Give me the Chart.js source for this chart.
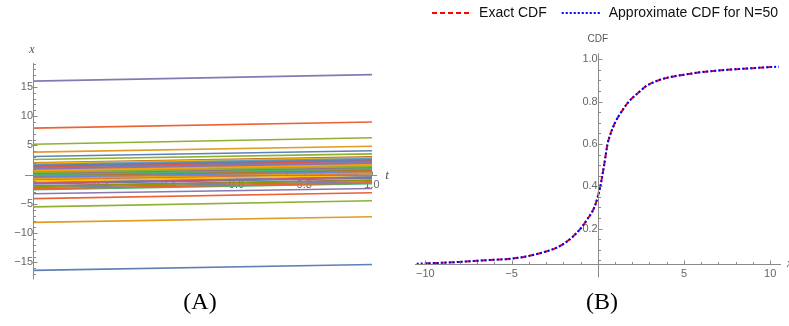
<!DOCTYPE html>
<html>
<head>
<meta charset="utf-8">
<script src="https://cdn.jsdelivr.net/npm/chart.js@4.4.1/dist/chart.umd.min.js"></script>
<style>
  html, body { margin: 0; padding: 0; background: #fff; width: 789px; height: 326px; overflow: hidden; position: relative; }
  #wa { position: absolute; left: 0; top: 0; width: 400px; height: 290px; }
  #wb { position: absolute; left: 400px; top: -9px; width: 395px; height: 299px; }
  .cap { position: absolute; top: 288px; font: 24px 'Liberation Serif', serif; color: #000; transform: translateX(-50%); white-space: nowrap; }
</style>
</head>
<body>
<div id="wa"><canvas id="ca" width="400" height="290"></canvas></div>
<div id="wb"><canvas id="cb" width="395" height="299"></canvas></div>
<div class="cap" style="left:200px">(A)</div>
<div class="cap" style="left:602px">(B)</div>
<script>
// ---------- Panel A: sample paths x(t) ----------
const tTickLabels = [0.2, 0.4, 0.6, 0.8, 1.0];
const xTickLabels = [-15, -10, -5, 5, 10, 15];
const tStart = 0;
const tEnd = 1;
// value of each path at t = 0 and at t = 1
const xAtStart = [3.1, 3.85, 5.2, 7.95, 16.0, 2.05, -0.35, 1.2, -1.9, 0.15,
                  0.8, -0.9, 1.65, -0.05, -2.55, -16.35, -8.15, -5.5, -4.1, -3.25,
                  0.45, -1.3, 1.9, -0.6, 0.05, 1.45, -2.2, 0.6, -0.15, 1.05,
                  -1.6, 0.3, 2.6, -0.8, 0.95, -0.25, 1.75, -1.1, 0.2, -2.0,
                  1.3, -0.45, 0.7, -1.45, 0.0, 1.55, -0.7, 0.4, -2.4, 1.1];
const xAtEnd   = [4.1, 4.85, 6.3, 9.0, 17.1, 3.05, 0.65, 2.2, -0.9, 1.15,
                  1.8, 0.1, 2.65, 0.95, -1.55, -15.35, -7.2, -4.45, -3.1, -2.35,
                  1.45, -0.3, 2.9, 0.4, 1.05, 2.45, -1.2, 1.6, 0.85, 2.05,
                  -0.6, 1.3, 3.55, 0.2, 1.95, 0.75, 2.75, -0.1, 1.2, -1.0,
                  2.3, 0.55, 1.7, -0.45, 1.0, 2.55, 0.3, 1.4, -1.4, 2.1];

// ---------- Panel B: cumulative distribution ----------
const cdfTickLabelsX = [-10, -5, 5, 10];
const cdfTickLabelsY = [0.2, 0.4, 0.6, 0.8, 1.0];
const exactX   = [-10, -9, -8, -7, -6, -5, -4, -3, -2.5, -2, -1.5, -1, -0.6, -0.2, 0, 0.15,
                  0.37, 0.57, 0.75, 1, 1.4, 1.8, 2.4, 2.8, 3.5, 4.2, 5, 6, 7, 8, 9, 10];
const exactCdf = [0.036, 0.039, 0.043, 0.048, 0.053, 0.058, 0.071, 0.092, 0.106, 0.127, 0.158, 0.2, 0.245, 0.3, 0.35, 0.4,
                  0.5, 0.6, 0.65, 0.7, 0.755, 0.8, 0.845, 0.873, 0.9, 0.916, 0.927, 0.939, 0.947, 0.953, 0.958, 0.963];
const approxX   = [-10.5, -10, -9, -8, -7, -6, -5, -4, -3, -2.5, -2, -1.5, -1, -0.6, -0.2, 0, 0.15,
                   0.37, 0.57, 0.75, 1, 1.4, 1.8, 2.4, 2.8, 3.5, 4.2, 5, 6, 7, 8, 9, 10, 10.5];
const approxCdf = [0.034, 0.036, 0.039, 0.043, 0.048, 0.053, 0.058, 0.071, 0.092, 0.106, 0.127, 0.158, 0.2, 0.245, 0.3, 0.35, 0.4,
                   0.5, 0.6, 0.65, 0.7, 0.755, 0.8, 0.845, 0.873, 0.9, 0.916, 0.927, 0.939, 0.947, 0.953, 0.958, 0.963, 0.965];

// default plot colours of the notebook style
const palette = ['#5E81B5', '#E19C24', '#8FB032', '#EB6235', '#8778B3', '#C56E1A', '#5D9EC7', '#FFBF00',
                 '#A5609D', '#929600', '#E95536', '#6685D9', '#F89F13', '#BC5B80', '#47B66D'];

const AXIS = '#8a8a8a';
const TICK_TEXT = '#666';
const tickFont = { family: "'Liberation Sans', Arial, sans-serif", size: 11 };
const signed = v => (v < 0 ? '\u2212' : '') + Math.abs(v);

// axis lines with inward major/minor tick marks, drawn from the scales
function drawAxes(chart, cfg) {
  const { ctx, chartArea: a, scales: { x, y } } = chart;
  const yAt = Math.round(y.getPixelForValue(cfg.xAxisAt)) + 0.5;
  const xAt = Math.round(x.getPixelForValue(cfg.yAxisAt)) + 0.5;
  ctx.save();
  ctx.strokeStyle = AXIS;
  ctx.lineWidth = 1;
  ctx.beginPath();
  ctx.moveTo(a.left, yAt); ctx.lineTo(a.right, yAt);
  ctx.moveTo(xAt, y.getPixelForValue(cfg.yAxisTop));
  ctx.lineTo(xAt, cfg.yAxisBottomPx != null ? yAt + cfg.yAxisBottomPx : a.bottom);
  for (let k = cfg.xMinorFrom; k <= cfg.xMinorTo; k++) {
    if (k === 0) continue;
    const px = Math.round(x.getPixelForValue(k * cfg.xMinorStep)) + 0.5;
    const len = k % cfg.xMajorEvery === 0 ? 4 : 2.5;
    ctx.moveTo(px, yAt); ctx.lineTo(px, yAt - len);
  }
  for (let k = cfg.yMinorFrom; k <= cfg.yMinorTo; k++) {
    if (k === 0) continue;
    const py = Math.round(y.getPixelForValue(k * cfg.yMinorStep)) + 0.5;
    const len = k % cfg.yMajorEvery === 0 ? 4 : 2.5;
    ctx.moveTo(xAt, py); ctx.lineTo(xAt + len, py);
  }
  ctx.stroke();
  ctx.restore();
}

function axisName(ctx, text, x, y, font, color, align) {
  ctx.save();
  ctx.font = font;
  ctx.fillStyle = color;
  ctx.textAlign = align || 'center';
  ctx.textBaseline = 'middle';
  ctx.fillText(text, x, y);
  ctx.restore();
}

const axesA = {
  id: 'axesA',
  afterDatasetsDraw(chart) {
    drawAxes(chart, {
      xAxisAt: 0, yAxisAt: 0, yAxisTop: chart.scales.y.max,
      xMinorStep: 0.05, xMinorFrom: 1, xMinorTo: 20, xMajorEvery: 4,
      yMinorStep: 1, yMinorFrom: -17, yMinorTo: 19, yMajorEvery: 5
    });
    const ctx = chart.ctx;
    axisName(ctx, 'x', 32, 50, "italic 12px 'Liberation Serif', serif", '#555');
    axisName(ctx, 't', 387, 176, "italic 13px 'Liberation Serif', serif", '#555');
  }
};

const axesB = {
  id: 'axesB',
  afterDatasetsDraw(chart) {
    const { x, y } = chart.scales;
    drawAxes(chart, {
      xAxisAt: y.min, yAxisAt: 0, yAxisTop: 1.028, yAxisBottomPx: 13,
      xMinorStep: 1, xMinorFrom: -10, xMinorTo: 10, xMajorEvery: 5,
      yMinorStep: 0.05, yMinorFrom: 1, yMinorTo: 20, yMajorEvery: 4
    });
    const ctx = chart.ctx;
    const x0 = x.getPixelForValue(0);
    axisName(ctx, 'CDF', x0, y.getPixelForValue(1.028) - 14, "10px 'Liberation Sans', Arial, sans-serif", '#555');
    axisName(ctx, 'x', chart.chartArea.right + 6, y.getPixelForValue(y.min), "italic 12px 'Liberation Serif', serif", '#555', 'left');
  }
};

new Chart(document.getElementById('ca'), {
  type: 'line',
  data: {
    datasets: xAtStart.map((v, i) => ({
      data: [{ x: tStart, y: v }, { x: tEnd, y: xAtEnd[i] }],
      borderColor: palette[i % palette.length],
      borderWidth: 1.6,
      pointRadius: 0,
      order: xAtStart.length - i
    }))
  },
  options: {
    responsive: false, animation: false, devicePixelRatio: 1, events: [],
    layout: { padding: { left: 25, right: 23, top: 63, bottom: 10 } },
    plugins: { legend: { display: false }, tooltip: { enabled: false } },
    scales: {
      x: {
        type: 'linear', min: -0.0236, max: 1.0147, position: { y: 0 }, z: 1,
        grid: { display: false, drawTicks: false }, border: { display: false },
        afterBuildTicks: s => { s.ticks = tTickLabels.map(v => ({ value: v })); },
        ticks: { callback: v => v.toFixed(1), padding: 4, color: TICK_TEXT, font: tickFont, autoSkip: false, maxRotation: 0 }
      },
      y: {
        type: 'linear', min: -17.9, max: 19.09, position: { x: 0 },
        grid: { display: false, drawTicks: false }, border: { display: false },
        afterBuildTicks: s => { s.ticks = xTickLabels.map(v => ({ value: v })); },
        ticks: { callback: v => signed(v), padding: 4, color: TICK_TEXT, font: tickFont, autoSkip: false }
      }
    }
  },
  plugins: [axesA]
});

new Chart(document.getElementById('cb'), {
  type: 'line',
  data: {
    datasets: [
      {
        label: 'Exact CDF',
        data: exactX.map((v, i) => ({ x: v, y: exactCdf[i] })),
        borderColor: '#ff0000', borderWidth: 2, borderDash: [5, 3],
        pointRadius: 0, cubicInterpolationMode: 'monotone', order: 2
      },
      {
        label: 'Approximate CDF for N=50',
        data: approxX.map((v, i) => ({ x: v, y: approxCdf[i] })),
        borderColor: '#0000ff', borderWidth: 2, borderDash: [2, 2],
        pointRadius: 0, cubicInterpolationMode: 'monotone', order: 1
      }
    ]
  },
  options: {
    responsive: false, animation: false, devicePixelRatio: 1, events: [],
    layout: { padding: { left: 15, right: 0, top: 0, bottom: 26 } },
    plugins: {
      tooltip: { enabled: false },
      legend: {
        display: true, position: 'top', align: 'center',
        labels: {
          usePointStyle: true, pointStyle: 'line', pointStyleWidth: 40,
          padding: 15, color: '#111',
          font: { family: "'Liberation Sans', Arial, sans-serif", size: 14 },
          sort: (a, b) => a.datasetIndex - b.datasetIndex,
          generateLabels: chart => Chart.defaults.plugins.legend.labels.generateLabels(chart).map(item => {
            const ds = chart.data.datasets[item.datasetIndex];
            item.lineDash = ds.borderDash;
            item.lineWidth = ds.borderWidth;
            item.strokeStyle = ds.borderColor;
            return item;
          })
        }
      }
    },
    scales: {
      x: {
        type: 'linear', min: -10.6, max: 10.63, position: { y: 0.033 },
        grid: { display: false, drawTicks: false }, border: { display: false },
        afterBuildTicks: s => { s.ticks = cdfTickLabelsX.map(v => ({ value: v })); },
        ticks: { callback: v => signed(v), padding: 3, color: TICK_TEXT, font: tickFont, autoSkip: false, maxRotation: 0 }
      },
      y: {
        type: 'linear', min: 0.033, max: 1.1383, position: { x: 0 },
        grid: { display: false, drawTicks: false }, border: { display: false },
        afterBuildTicks: s => { s.ticks = cdfTickLabelsY.map(v => ({ value: v })); },
        ticks: { callback: v => v.toFixed(1), padding: 3, color: TICK_TEXT, font: tickFont, autoSkip: false }
      },
      yPad: {
        type: 'linear', position: 'right', display: true,
        grid: { display: false, drawTicks: false }, border: { display: false },
        ticks: { display: false },
        afterFit: s => { s.width = 14; }
      }
    }
  },
  plugins: [axesB]
});
</script>
</body>
</html>
